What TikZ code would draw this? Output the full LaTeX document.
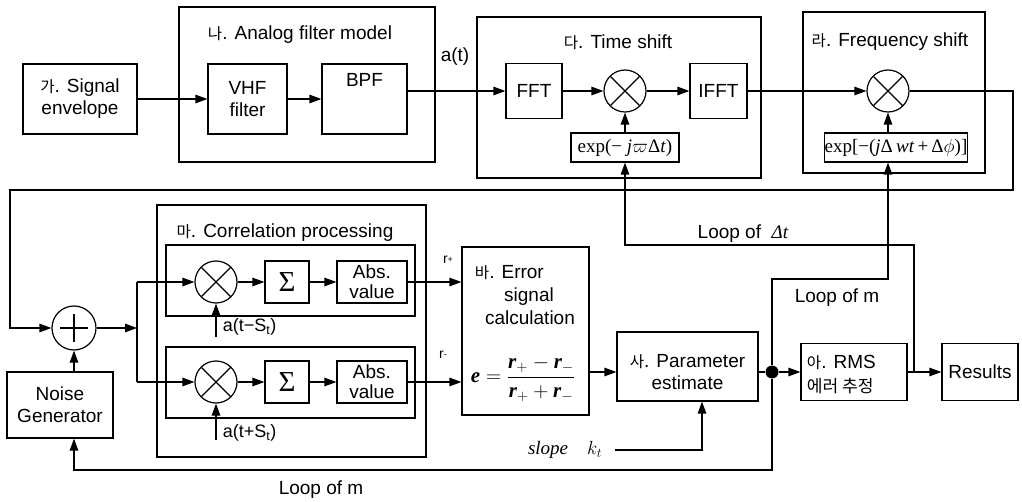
\RequirePackage{fix-cm}
\documentclass[tikz,border=0pt]{standalone}
\usepackage[no-math]{fontspec}
\setmainfont{Liberation Sans}
\newfontfamily\kr[Scale=0.82]{Noto Sans CJK KR}
\newfontfamily\krb[Scale=0.9]{Noto Sans CJK KR}
\newfontfamily\tms{Liberation Serif}
\usetikzlibrary{arrows.meta,calc}
\newcommand\rbi[1]{\mbox{\tms\bfseries\itshape r}_{#1}}
\tikzset{
  box/.style={draw, inner sep=0pt, align=center},
  arr/.style={-{Triangle[length=12pt,width=8.5pt]}},
  mult/.style={circle, draw, minimum size=42pt, inner sep=0pt,
    path picture={
      \draw ([shift={(-14.5pt,-14.5pt)}]path picture bounding box.center) -- ([shift={(14.5pt,14.5pt)}]path picture bounding box.center);
      \draw ([shift={(-14.5pt,14.5pt)}]path picture bounding box.center) -- ([shift={(14.5pt,-14.5pt)}]path picture bounding box.center);}},
  addr/.style={circle, draw, minimum size=44pt, inner sep=0pt,
    path picture={
      \draw ([shift={(-14pt,0pt)}]path picture bounding box.center) -- ([shift={(14pt,0pt)}]path picture bounding box.center);
      \draw ([shift={(0pt,-14pt)}]path picture bounding box.center) -- ([shift={(0pt,14pt)}]path picture bounding box.center);}},
  small/.style={font=\fontsize{18}{20}\selectfont},
  mathf/.style={font=\tms\fontsize{19}{20}\selectfont},
  sig/.style={font=\tms\fontsize{29}{29}\selectfont},
}
\begin{document}
\begin{tikzpicture}[x=1pt,y=-1pt,line width=1.2pt,font=\fontsize{19}{22}\selectfont]
\useasboundingbox (0,0) rectangle (1022,502);
% ---------- top row ----------
\node[box, minimum width=114pt, minimum height=70pt] (sig) at (80,99) {{\kr 가}. Signal\\envelope};
\node[box, minimum width=256pt, minimum height=155pt] (afm) at (307,84.5) {};
\node (afmt) at (300,35) {{\kr 나}. Analog filter model};
\node[box, minimum width=79pt, minimum height=70pt] (vhf) at (247.5,99) {VHF\\filter};
\node[box, minimum width=85pt, minimum height=70pt] (bpf) at (364.5,99) {};
\node (bpft) at (364.5,80) {BPF};
\node (at) at (455,57) {a(t)};
\node[box, minimum width=284pt, minimum height=161pt] (tsf) at (619,97.5) {};
\node (tst) at (618,42) {{\kr 다}. Time shift};
\node[box, minimum width=56pt, minimum height=55pt] (fft) at (534,91) {FFT};
\node[mult] (m1) at (625,91) {};
\node[box, mathf, minimum width=108pt, minimum height=29pt] (e1) at (625,147.5) {exp(− \textit{j}$\varpi$Δ\textit{t})};
\node[box, minimum width=57pt, minimum height=55pt] (ifft) at (718.5,91) {IFFT};
\node[box, minimum width=182pt, minimum height=161pt] (fsf) at (894,92.5) {};
\node (fst) at (890,42) {{\kr 라}. Frequency shift};
\node[mult] (m2) at (888,91) {};
\node[box, mathf, minimum width=142pt, minimum height=29pt] (e2) at (896,147.5) {exp[−(\textit{j}Δ\,\textit{wt}\,+\,Δ$\phi$)]};
\draw[arr] (sig) -- (vhf);
\draw[arr] (vhf) -- (bpf);
\draw[arr] (bpf.east |- fft) -- (fft);
\draw[arr] (fft) -- (m1);
\draw[arr] (m1) -- (ifft);
\draw[arr] (ifft) -- (m2);
\draw[arr] (e1) -- (m1);
\draw[arr] (e2.north -| m2) -- (m2);
% ---------- feedback ----------
\coordinate (fbr) at (1013,190);
\coordinate (fbl) at (10,190);
\node[addr] (add) at (74,328) {};
\draw[arr] (m2) -| (fbr) -- (fbl) |- (add);
\node[box, minimum width=106pt, minimum height=66pt] (noise) at (60,405) {Noise\\Generator};
\draw[arr] (noise.north -| add) -- (add);
% ---------- correlation ----------
\node[box, minimum width=269pt, minimum height=252pt] (corr) at (291.5,331) {};
\node (corrt) at (285,233) {{\kr 마}. Correlation processing};
\node[box, minimum width=249pt, minimum height=71pt] (uf) at (290.5,280.5) {};
\node[box, minimum width=249pt, minimum height=71pt] (lf) at (290.5,382.5) {};
\node[mult] (mu) at (216,282) {};
\node[box, sig, minimum width=44pt, minimum height=42pt] (su) at (287,282) {Σ};
\node[box, font=\fontsize{19}{20}\selectfont, minimum width=70pt, minimum height=42pt] (au) at (372,282) {Abs.\\value};
\node[mult] (ml) at (216,382) {};
\node[box, sig, minimum width=44pt, minimum height=42pt] (sl) at (287,382) {Σ};
\node[box, font=\fontsize{19}{20}\selectfont, minimum width=70pt, minimum height=42pt] (al) at (372,382) {Abs.\\value};
\coordinate (jt) at (137,282);
\coordinate (jb) at (137,382);
\draw[arr] (add) -- (add -| jt);
\draw (jt) -- (jb);
\draw[arr] (jt) -- (mu);
\draw[arr] (jb) -- (ml);
\draw[arr] (mu) -- (su);
\draw[arr] (su) -- (au);
\draw[arr] (ml) -- (sl);
\draw[arr] (sl) -- (al);
\coordinate (atm) at (216,337);
\draw[arr] (atm) -- (mu);
\node[small, anchor=west] (atml) at (219,327) {a(t−S\textsubscript{t})};
\coordinate (atp) at (216,440);
\draw[arr] (atp) -- (ml);
\node[small, anchor=west] (atpl) at (219,433) {a(t+S\textsubscript{t})};
% ---------- error ----------
\node[box, minimum width=127pt, minimum height=168pt] (err) at (525.5,331) {};
\node[anchor=west] (errt1) at (471,273) {{\kr 바}. Error};
\node (errt2) at (529,297) {signal};
\node (errt3) at (530,318) {calculation};
\node[font=\fontsize{21}{22}\selectfont] (form) at (523,379) {$\mbox{\tms\bfseries\itshape e}=\displaystyle\frac{\rbi{+}-\rbi{-}}{\rbi{+}+\rbi{-}}$};
\draw[arr] (au) -- (au -| err.west);
\draw[arr] (al) -- (al -| err.west);
\node[font=\fontsize{14}{14}\selectfont] (rp) at (448,260) {r\raisebox{0.15ex}{\fontsize{9}{9}\selectfont +}};
\node[font=\fontsize{14}{14}\selectfont] (rm) at (443,355) {r\raisebox{0.15ex}{\fontsize{9}{9}\selectfont -}};
% ---------- parameter / rms / results ----------
\node[box, minimum width=141pt, minimum height=69pt] (par) at (687.5,366.5) {};
\node[align=center] (part) at (687.5,372.5) {{\kr 사}. Parameter\\estimate};
\node[circle, fill, inner sep=0pt, minimum size=13pt] (dot) at (772,372) {};
\draw[arr] (err.east |- dot) -- (par.west |- dot);
\draw (par.east |- dot) -- (dot);
\node[box, minimum width=106pt, minimum height=57pt] (rms) at (854,372) {};
\node[anchor=west, align=left, font=\fontsize{19}{24}\selectfont] (rmst) at (803,374.5) {{\kr 아}. RMS\\{\krb 에러 추정}};
\node[box, minimum width=76pt, minimum height=57pt] (res) at (980,372) {Results};
\draw[arr] (dot) -- (rms);
\draw[arr] (rms) -- (res);
% ---------- loops ----------
\coordinate (jr) at (914,372);
\coordinate (ldt) at (914,245);
\draw[arr] (jr) -- (ldt) -| (e1);
\node[anchor=east] (ldtl) at (792,234) {Loop of \ {\tms\itshape Δt}};
\coordinate (lmc) at (888,279);
\draw[arr] (dot) |- (lmc) -- (lmc |- e2.south);
\node (lml) at (837,298) {Loop of m};
\coordinate (bl) at (74,470);
\draw[arr] (dot) |- (bl) -- (bl |- noise.south);
\node (lml2) at (321,490) {Loop of m};
\node[font=\fontsize{19}{22}\selectfont] (slope) at (565,450) {{\tms\itshape slope}\quad$k_t$};
\coordinate (sl0) at (615,450);
\coordinate (sk) at (702,450);
\draw[arr] (sl0) -- (sk) -- (sk |- par.south);
\end{tikzpicture}
\end{document}
